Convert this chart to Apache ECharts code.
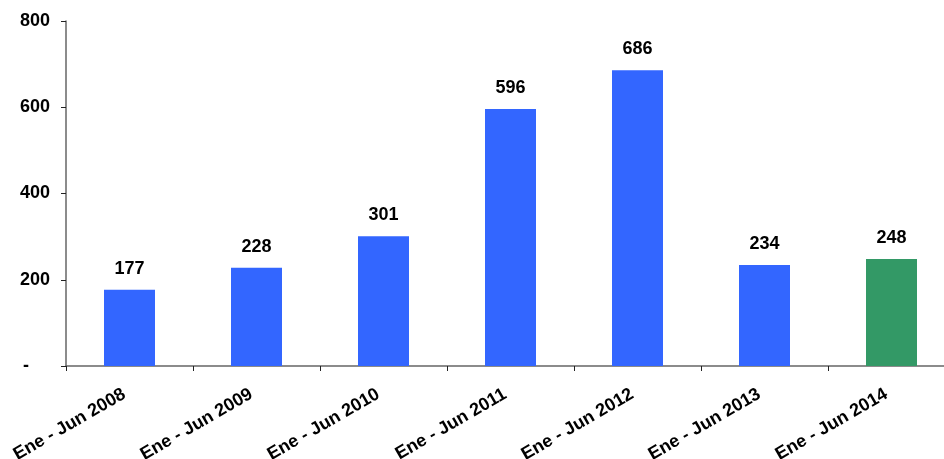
<!DOCTYPE html>
<html><head><meta charset="utf-8">
<script src="https://cdn.jsdelivr.net/npm/echarts@6/dist/echarts.min.js"></script>
<style>html,body{margin:0;padding:0;background:#fff}#c{width:944px;height:459px}</style>
</head><body><div id="c"></div>
<script>
const categories = ['Ene - Jun 2008','Ene - Jun 2009','Ene - Jun 2010','Ene - Jun 2011','Ene - Jun 2012','Ene - Jun 2013','Ene - Jun 2014'];
const values = [177, 228, 301, 596, 686, 234, 248];
const barColors = ['#3366FF','#3366FF','#3366FF','#3366FF','#3366FF','#3366FF','#339966'];
const yTicks = [0, 200, 400, 600, 800];

const chart = echarts.init(document.getElementById('c'));
const font = { color: '#000', fontFamily: 'Liberation Sans, Arial', fontWeight: 'bold', fontSize: 18 };
chart.setOption({
  animation: false,
  grid: { left: 66, right: -11, top: 21, bottom: 93, containLabel: false, outerBoundsMode: 'none' },
  xAxis: {
    type: 'category', data: categories,
    axisLine: { lineStyle: { color: '#666', width: 1.5 } },
    axisTick: { show: true, length: 5, lineStyle: { color: '#222' } },
    axisLabel: Object.assign({ rotate: 30, margin: 24, padding: [0, 6, 0, 0] }, font)
  },
  yAxis: {
    type: 'value', min: 0, max: 800, interval: 200,
    axisLine: { show: true, lineStyle: { color: '#666', width: 1.5 } },
    axisTick: { show: true, length: 5, lineStyle: { color: '#222' } },
    splitLine: { show: false },
    axisLabel: Object.assign({ margin: 16,
      formatter: v => v === 0 ? '{d|-}' : String(yTicks[yTicks.indexOf(v)]),
      rich: { d: Object.assign({ padding: [0, 21, 0, 0] }, font) } }, font)
  },
  series: [{
    type: 'bar', barWidth: 51,
    data: values.map((v, i) => ({ value: v, itemStyle: { color: barColors[i] } })),
    label: Object.assign({ show: true, position: 'top', distance: 12 }, font)
  }]
});
</script></body></html>
